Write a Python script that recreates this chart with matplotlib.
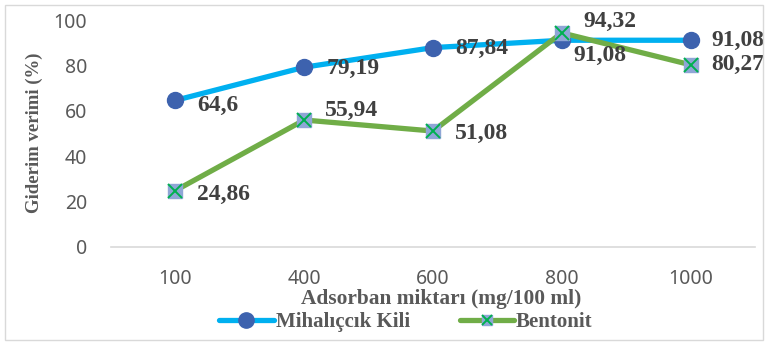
import matplotlib

matplotlib.use("Agg")

import matplotlib.pyplot as plt  # noqa: E402
from matplotlib.lines import Line2D  # noqa: E402
from matplotlib.patches import Rectangle  # noqa: E402

categories = ["100", "400", "600", "800", "1000"]
kili = [64.6, 79.19, 87.84, 91.08, 91.08]
bentonit = [24.86, 55.94, 51.08, 94.32, 80.27]
kili_labels = ["64,6", "79,19", "87,84", "91,08", "91,08"]
bentonit_labels = ["24,86", "55,94", "51,08", "94,32", "80,27"]

# data label offsets in pixels (dx, dy), y up, roughly where Excel put them
kili_off = [(22, -5), (22, -1), (22, -1), (12, -15), (21, 0)]
bentonit_off = [(22, -4), (21, 10), (22, -2), (22, 11), (21, 0)]

BLUE_LINE = "#00b0f0"
BLUE_MARK = "#3d62ae"
GREEN_LINE = "#70ad47"
SQ_FILL = "#8fa6d6"
X_GREEN = "#00b050"
LABEL_GRAY = "#404040"
TEXT_GRAY = "#595959"
SERIF = "Liberation Serif"

fig = plt.figure(figsize=(7.68, 3.44), dpi=100)
ax = fig.add_axes([111 / 768, 97 / 344, 644 / 768, 227 / 344])

x = list(range(len(categories)))
ax.plot(x, kili, color=BLUE_LINE, lw=3.8, marker="o", ms=11.5,
        mfc=BLUE_MARK, mec=BLUE_MARK, solid_capstyle="round", zorder=3)
ax.plot(x, bentonit, color=GREEN_LINE, lw=3.8, solid_capstyle="round", zorder=3)
ax.plot(x, bentonit, ls="none", marker="s", ms=10, mfc=SQ_FILL, mec=SQ_FILL, zorder=4)
ax.plot(x, bentonit, ls="none", marker="x", ms=10, mew=1.4, color=X_GREEN, zorder=5)

for xs, labels, offs in ((kili, kili_labels, kili_off),
                         (bentonit, bentonit_labels, bentonit_off)):
    for xi, yi, lab, (dx, dy) in zip(x, xs, labels, offs):
        ax.annotate(lab, (xi, yi), xytext=(dx, dy), textcoords="offset pixels",
                    ha="left", va="center", fontsize=17, fontweight="bold",
                    family=SERIF, color=LABEL_GRAY, annotation_clip=False)

ax.set_xlim(-0.5, len(categories) - 0.5)
ax.set_ylim(0, 100)
ax.set_yticks(range(0, 101, 20))
ax.set_xticks(x)
ax.set_xticklabels(categories)
for s in ("top", "right", "left"):
    ax.spines[s].set_visible(False)
ax.spines["bottom"].set_color("#d9d9d9")
ax.spines["bottom"].set_linewidth(1.2)
ax.tick_params(length=0, labelsize=14, labelcolor=TEXT_GRAY)
ax.tick_params(axis="y", pad=17)
ax.tick_params(axis="x", pad=16)
for t in ax.get_xticklabels() + ax.get_yticklabels():
    t.set_family("Noto Sans")

fig.text(34 / 768, 1 - 133 / 344, "Giderim verimi (%)", rotation=90,
         ha="center", va="center", fontsize=13.5, fontweight="bold",
         family=SERIF, color=TEXT_GRAY)
fig.text(441 / 768, 1 - 299 / 344, "Adsorban miktarı (mg/100 ml)",
         ha="center", va="center", fontsize=15.4, fontweight="bold",
         family=SERIF, color=TEXT_GRAY)

handles = [
    Line2D([], [], color=BLUE_LINE, lw=3.8, marker="o", ms=11,
           mfc=BLUE_MARK, mec=BLUE_MARK, solid_capstyle="round"),
    (Line2D([], [], color=GREEN_LINE, lw=3.8, solid_capstyle="round"),
     Line2D([], [], ls="none", marker="s", ms=7, mfc=SQ_FILL, mec=SQ_FILL),
     Line2D([], [], ls="none", marker="x", ms=7, mew=1.4, color=X_GREEN)),
]
fig.legend(handles, ["Mihalıçcık Kili", "Bentonit"], loc="center",
           bbox_to_anchor=(406 / 768, 1 - 322 / 344), ncol=2, frameon=False,
           handlelength=2.6, handletextpad=0.1, columnspacing=2.4,
           borderpad=0, prop={"family": SERIF, "weight": "bold", "size": 15},
           labelcolor=TEXT_GRAY)

fig.patches.append(Rectangle((5 / 768, 4 / 344), 758 / 768, 335 / 344,
                             transform=fig.transFigure, fill=False,
                             edgecolor="#d9d9d9", lw=1, zorder=0))

fig.savefig("out.png", dpi=100)
